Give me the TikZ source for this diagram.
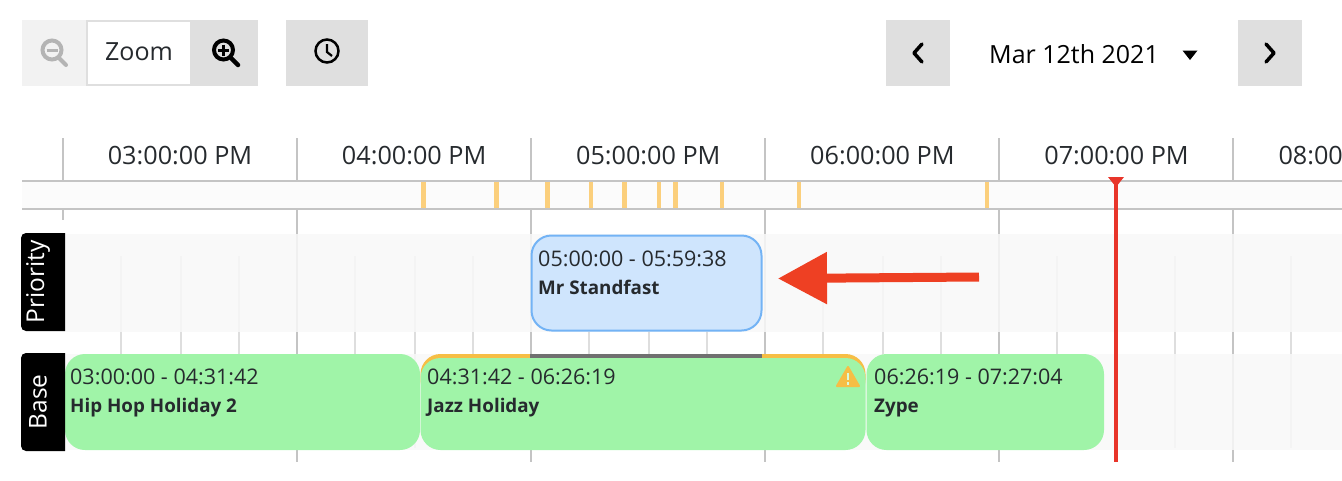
\documentclass[tikz,border=0pt]{standalone}
\usepackage{fontspec}
\setmainfont{Open Sans}
\usepackage{tikz}
\usetikzlibrary{positioning,arrows.meta}
\definecolor{btngray}{HTML}{DFDFDF}
\definecolor{btnlight}{HTML}{F2F2F2}
\definecolor{gridgray}{HTML}{C4C4C4}
\definecolor{gridlight}{HTML}{DEDEDE}
\definecolor{bandgray}{HTML}{F8F8F8}
\definecolor{stripgray}{HTML}{FBFBFB}
\definecolor{tickorange}{HTML}{FBCF7C}
\definecolor{warnorange}{HTML}{F6BE45}
\definecolor{nowred}{HTML}{E8352A}
\definecolor{arrowred}{HTML}{EE4023}
\definecolor{blockgreen}{HTML}{A0F4A8}
\definecolor{blockblue}{HTML}{CFE5FD}
\definecolor{blockline}{HTML}{73B3F5}
\definecolor{inkgray}{HTML}{262A2E}
\definecolor{icongray}{HTML}{B4B4B4}
\tikzset{
  btn/.style={fill=btngray,minimum height=66pt,inner sep=0pt,outer sep=0pt},
  hourlabel/.style={text=inkgray,font=\fontsize{25.2}{30}\selectfont,inner sep=0pt},
  majorline/.style={gridgray,line width=2pt},
  minorline/.style={gridlight,line width=2pt},
  marktick/.style={tickorange,line width=4.5pt},
  block/.style={rounded corners=20pt,minimum height=96pt,inner sep=0pt,outer sep=0pt,anchor=north west},
  blocktime/.style={text=inkgray,font=\fontsize{21.5}{26}\selectfont,inner sep=0pt,anchor=base west},
  blockname/.style={text=inkgray,font=\fontsize{18.8}{24}\selectfont\bfseries,inner sep=0pt,anchor=base west},
  rowlabel/.style={text=white,font=\fontsize{24.5}{30}\selectfont,inner sep=0pt,rotate=90}
}
\begin{document}
\begin{tikzpicture}[x=1pt,y=-1pt]
	\useasboundingbox (0,0) rectangle (1342,480);
	%% toolbar
	\node[btn,fill=btnlight,minimum width=64pt] (zoomout) at (54,53) {};
	\node[btn,fill=white,draw=btngray,line width=2pt,minimum width=104pt,minimum height=64pt,right=1pt of zoomout,font=\fontsize{25}{30}\selectfont,text=inkgray,text depth=3pt] (zoomtext) {Zoom};
	\node[btn,minimum width=66pt,right=1pt of zoomtext] (zoomin) {};
	\node[btn,minimum width=82pt,right=28pt of zoomin] (clock) {};
	\node[btn,minimum width=64pt] (prev) at (918,53) {};
	\node[btn,minimum width=64pt] (next) at (1270,53) {};
	\node[text=black,font=\fontsize{25}{30}\selectfont,inner sep=0pt] (date) at (1074,54) {Mar 12th 2021};
	% icons
	\draw[icongray,line width=4pt] (52,50) circle (9.5);
	\draw[icongray,line width=4pt,line cap=round] (59,58) -- (66,65);
	\draw[icongray,line width=3pt] (46.5,50) -- (57.5,50);
	\draw[black,line width=4pt] (223.5,50) circle (9.5);
	\draw[black,line width=4.5pt,line cap=round] (231,58) -- (238,65);
	\draw[black,line width=3pt] (218,50) -- (229,50) (223.5,44.5) -- (223.5,55.5);
	\draw[black,line width=2.5pt] (327,51) circle (11.5);
	\draw[black,line width=2.2pt] (327,44) -- (327,52) -- (332,56);
	\draw[black,line width=3.5pt,line cap=round,line join=round] (922,44) -- (914,53) -- (922,62);
	\draw[black,line width=3.5pt,line cap=round,line join=round] (1266,44) -- (1274,53) -- (1266,62);
	\fill[black] (1182.5,50.5) -- (1197.5,50.5) -- (1190,60) -- cycle;
	%% grid
	\foreach \x in {121,181,239,355,415,473,589,649,707,823,883,941,1057,1175,1291}
		\draw[minorline] (\x,256) -- (\x,448);
	\draw[majorline] (63,138) -- (63,220);
	\foreach \x in {297,531,765,999,1233}
		\draw[majorline] (\x,138) -- (\x,462);
	%% bands
	\fill[bandgray,opacity=.85] (65,234) rectangle (1342,332);
	\fill[bandgray,opacity=.85] (65,354) rectangle (1342,450);
	\fill[stripgray] (22,181) rectangle (1342,209);
	\draw[gridgray,line width=2pt] (22,181) -- (1342,181) (22,209) -- (1342,209);
	\foreach \x in {423.5,496.5,547.5,591,624.5,659,675.5,722,799,987}
		\draw[marktick] (\x,182) -- (\x,208);
	%% hours
	\node[hourlabel] (h3) at (180,156) {03:00:00 PM};
	\node[hourlabel,right=89.4pt of h3] (h4) {04:00:00 PM};
	\node[hourlabel,right=89.4pt of h4] (h5) {05:00:00 PM};
	\node[hourlabel,right=89.4pt of h5] (h6) {06:00:00 PM};
	\node[hourlabel,right=89.4pt of h6] (h7) {07:00:00 PM};
	\node[hourlabel,right=89.4pt of h7] (h8) {08:00:00 PM};
	%% blocks
	\node[block,fill=blockblue,draw=blockline,line width=2pt,minimum width=230pt,minimum height=95pt] (standfast) at (531.5,235.5) {};
	\node[block,fill=blockgreen,minimum width=355pt] (hiphop) at (65,354) {};
	\fill[warnorange,rounded corners=20pt] (420.5,400) -- (420.5,354) -- (865.5,354) -- (865.5,400) -- cycle;
	\fill[black!56] (530,354) rectangle (762,358);
	\node[block,fill=blockgreen,minimum width=445pt,minimum height=92pt] (jazz) at (420.5,358) {};
	\node[block,fill=blockgreen,minimum width=237.5pt] (zype) at (866.5,354) {};
	\node[blocktime] (standfasttime) at (538,266) {05:00:00 - 05:59:38};
	\node[blockname,below=28pt of standfasttime.base west,anchor=base west] (standfastname) {Mr Standfast};
	\node[blocktime] (hiphoptime) at (70,384) {03:00:00 - 04:31:42};
	\node[blockname,below=28pt of hiphoptime.base west,anchor=base west] (hiphopname) {Hip Hop Holiday 2};
	\node[blocktime] (jazztime) at (427,384) {04:31:42 - 06:26:19};
	\node[blockname,below=28pt of jazztime.base west,anchor=base west] (jazzname) {Jazz Holiday};
	\node[blocktime] (zypetime) at (874,384) {06:26:19 - 07:27:04};
	\node[blockname,below=28pt of zypetime.base west,anchor=base west] (zypename) {Zype};
	% warning sign
	\fill[warnorange,draw=warnorange,line width=2pt,line join=round] (848,367) -- (859,386) -- (837,386) -- cycle;
	\draw[blockgreen!40,line width=2.5pt] (848,373) -- (848,380) (848,382) -- (848,384.5);
	%% rows
	\fill[black] (65,233) {[rounded corners=5pt] -- (21,233) -- (21,331)} -- (65,331) -- cycle;
	\fill[black] (65,353) {[rounded corners=5pt] -- (21,353) -- (21,451)} -- (65,451) -- cycle;
	\node[rowlabel] (rowpriority) at (38,282) {Priority};
	\node[rowlabel] (rowbase) at (38,402) {Base};
	%% now line
	\draw[nowred,line width=4pt] (1116,180) -- (1116,462);
	\fill[nowred] (1108,177) -- (1124,177) -- (1116,187) -- cycle;
	%% arrow
	\coordinate (arrowstart) at (979,277);
	\coordinate (arrowend) at (778,278.5);
	\draw[-{Triangle[length=49pt,width=50pt]},arrowred,line width=9pt] (arrowstart) -- (arrowend);
\end{tikzpicture}
\end{document}
